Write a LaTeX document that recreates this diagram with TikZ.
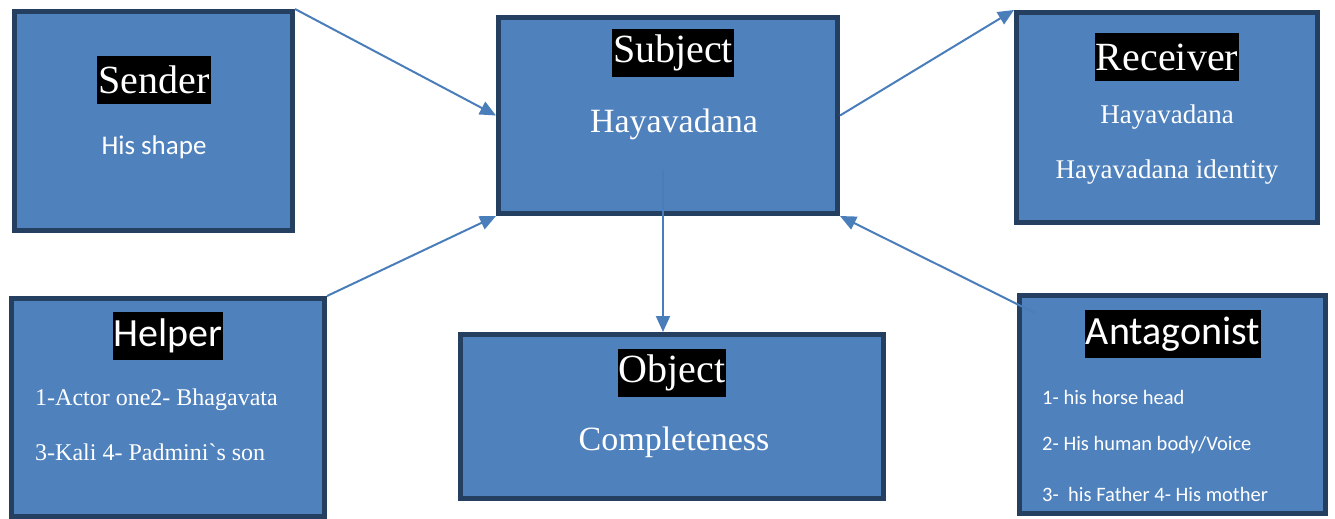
\documentclass[tikz,border=0pt]{standalone}
\usepackage{fontspec}
\setmainfont{Liberation Serif}
\newfontfamily\calibri{Carlito}
\usetikzlibrary{arrows.meta, positioning, calc}
\definecolor{boxfill}{RGB}{79,129,189}
\definecolor{boxedge}{RGB}{36,63,96}
\definecolor{linkblue}{RGB}{74,126,187}

\begin{document}
\begin{tikzpicture}[
  x=1pt, y=-1pt,
  rolebox/.style={rectangle, draw=boxedge, fill=boxfill, line width=5pt, inner sep=0pt},
  rolehead/.style={fill=black, text=white, inner xsep=1pt, inner ysep=0pt, minimum height=48pt, font=\fontsize{40}{48}\selectfont},
  serifhead/.style={rolehead},
  sanshead/.style={rolehead, font=\calibri\fontsize{40}{48}\selectfont},
  bigtext/.style={text=white, inner sep=0pt, font=\fontsize{34}{40}\selectfont},
  midtext/.style={text=white, inner sep=0pt, font=\fontsize{27}{32}\selectfont},
  listtext/.style={text=white, inner sep=0pt, anchor=west, font=\fontsize{24}{28}\selectfont},
  smalltext/.style={text=white, inner sep=0pt, anchor=west, font=\calibri\fontsize{20.5}{24}\selectfont},
  link/.style={-{Triangle[length=16pt, width=14pt]}, line width=2pt, linkblue}
]
\useasboundingbox (0,0) rectangle (1335,519);

% Boxes
\node[rolebox, minimum width=278pt, minimum height=219pt] (sender_box) at (153.5,121) {};
\node[rolebox, minimum width=339pt, minimum height=196pt] (subject_box) at (668,115.5) {};
\node[rolebox, minimum width=301pt, minimum height=210pt] (receiver_box) at (1167,117.5) {};
\node[rolebox, minimum width=313pt, minimum height=218pt] (helper_box) at (168,407.5) {};
\node[rolebox, minimum width=423pt, minimum height=164pt] (object_box) at (672,416.5) {};
\node[rolebox, minimum width=306pt, minimum height=218pt] (antag_box) at (1172.5,404.5) {};

% Sender
\node[serifhead] (sender_head) at (154,80) {Sender};
\node[midtext, font=\calibri\fontsize{27}{32}\selectfont] (sender_text) at (154,147) {His shape};

% Subject
\node[serifhead] (subject_head) at (673,53) {Subject};
\node[bigtext] (subject_text) at (674,124) {Hayavadana};

% Receiver
\node[serifhead] (receiver_head) at (1167,57) {Receiver};
\node[midtext] (receiver_one) at (1167,117) {Hayavadana};
\node[midtext] (receiver_two) at (1167,172) {Hayavadana identity};

% Helper
\node[sanshead] (helper_head) at (168,336) {Helper};
\node[listtext] (helper_one) at (35,400) {1-Actor one2- Bhagavata};
\node[listtext] (helper_two) at (35,452) {3-Kali 4- Padmini\textasciigrave s son};

% Object
\node[serifhead] (object_head) at (672,373) {Object};
\node[bigtext] (object_text) at (674,442) {Completeness};

% Antagonist
\node[sanshead] (antag_head) at (1173,334) {Antagonist};
\node[smalltext] (antag_one) at (1042,397) {1- his horse head};
\node[smalltext] (antag_two) at (1042,445) {2- His human body/Voice};
\node[smalltext] (antag_three) at (1042,494) {3-\ \ his Father 4- His mother};

% Connectors
\coordinate (subject_stem) at (663,170);
\coordinate (antag_start) at ($(antag_box.north west)+(18,20)$);
\draw[link] (sender_box.north east) -- (subject_box.west);
\draw[link] (helper_box.north east) -- (subject_box.south west);
\draw[link] (subject_box.east) -- (receiver_box.north west);
\draw[link] (antag_start) -- (subject_box.south east);
\draw[link] (subject_stem) -- (subject_stem |- object_box.north);

\end{tikzpicture}
\end{document}
